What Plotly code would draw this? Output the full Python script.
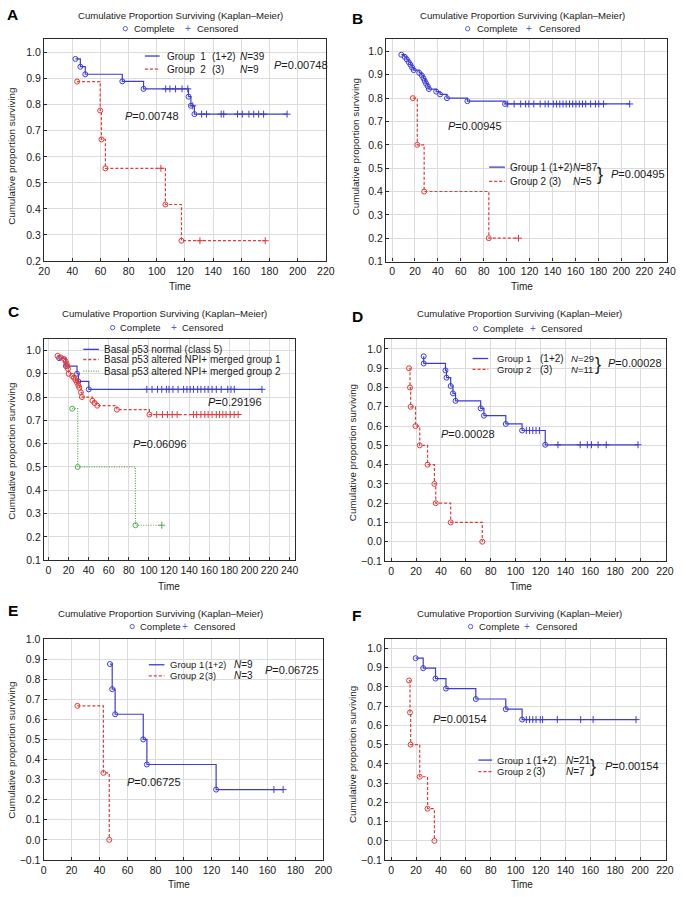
import plotly.graph_objects as go

W, H = 685, 897

# ---------------- data ----------------
# Panel A
A_g1_t = [42.2, 45.7, 49.2, 75.5, 90.6, 122.5, 124.2, 126.7]
A_g1_s = [0.976, 0.946, 0.917, 0.890, 0.861, 0.831, 0.796, 0.764]
A_g1_c = [106.3, 109.3, 113.3, 117.9, 122.0, 125.5, 131.8, 135.3, 145.7, 147.5,
          157.3, 160.7, 165.4, 168.8, 172.3, 175.8, 192.5]
A_g2_t = [43.4, 59.8, 60.7, 63.5, 106.1, 117.5]
A_g2_s = [0.889, 0.778, 0.667, 0.556, 0.417, 0.278]
A_g2_c = [102.9, 130.6, 177.0]

# Panel B
B_g1_t = [8.1, 11.0, 12.9, 14.6, 16.1, 17.5, 18.9, 23.7, 26.0, 27.4, 28.5, 29.7,
          31.1, 32.2, 38.5, 41.9, 47.9, 65.7, 98.6]
B_g1_s = [0.986, 0.977, 0.966, 0.954, 0.943, 0.931, 0.920, 0.908, 0.897, 0.885,
          0.874, 0.862, 0.851, 0.839, 0.828, 0.816, 0.800, 0.787, 0.775]
B_g1_c = [100.9, 106.5, 112.2, 116.5, 119.3, 123.6, 129.2, 133.5, 136.3, 140.6,
          143.4, 146.3, 149.1, 151.9, 154.8, 157.6, 160.4, 163.3, 166.1, 168.9,
          173.2, 177.4, 180.3, 184.5, 207.3]
B_g2_t = [18.1, 22.0, 28.0, 84.4]
B_g2_s = [0.8, 0.6, 0.4, 0.2]
B_g2_c = [110.3]

# Panel C
C_g1_t = [10.7, 17.5, 28.5, 29.8, 40.2]
C_g1_s = [0.967, 0.933, 0.900, 0.867, 0.833]
C_g1_c = [97.9, 103.1, 108.6, 112.8, 117.4, 120.0, 123.9, 129.0, 134.5, 137.8,
          141.0, 144.3, 148.5, 151.7, 155.6, 158.9, 162.8, 167.0, 171.9, 178.4,
          181.6, 184.9, 212.4]
C_g2_t = [9.1, 12.3, 15.6, 17.2, 18.2, 18.8, 19.5, 20.1, 23.7, 25.3, 26.9, 28.5,
          29.8, 30.8, 32.4, 33.4, 43.8, 46.0, 48.6, 68.1, 100.5]
C_g2_s = [0.977, 0.970, 0.963, 0.953, 0.942, 0.932, 0.921, 0.900, 0.890, 0.883,
          0.873, 0.862, 0.850, 0.840, 0.820, 0.800, 0.784, 0.774, 0.763, 0.746, 0.725]
C_g2_c = [107.7, 113.5, 118.4, 123.2, 128.1, 144.3, 147.5, 151.7, 155.6, 158.9,
          162.8, 167.0, 170.2, 173.5, 176.7, 180.9, 184.8, 188.7]
C_g3_t = [23.7, 29.2, 86.6]
C_g3_s = [0.75, 0.5, 0.25]
C_g3_c = [112.8]

# Panel D
D_g1_t = [26.1, 26.1, 43.6, 44.4, 47.8, 49.6, 51.7, 71.9, 74.5, 92.1, 105.2, 123.8]
D_g1_s = [0.962, 0.925, 0.889, 0.851, 0.808, 0.770, 0.731, 0.692, 0.654, 0.611, 0.577, 0.503]
D_g1_c = [108.6, 111.2, 113.8, 116.4, 119.1, 134.0, 151.9, 157.6, 161.0, 166.3, 172.8, 198.4]
D_g2_t = [14.3, 15.1, 15.6, 19.5, 22.9, 29.2, 34.7, 35.8, 47.8, 73.2]
D_g2_s = [0.9, 0.8, 0.7, 0.6, 0.5, 0.4, 0.3, 0.2, 0.1, 0.0]
D_g2_c = []

# Panel E
E_g1_t = [47.4, 49.0, 51.1, 71.2, 73.8, 123.3]
E_g1_s = [0.875, 0.75, 0.625, 0.5, 0.375, 0.25]
E_g1_c = [164.6, 171.2]
E_g2_t = [24.1, 42.7, 46.9]
E_g2_s = [0.667, 0.333, 0.0]
E_g2_c = []

# Panel F
F_g1_t = [19.6, 25.7, 35.6, 44.0, 68.0, 92.1, 105.2]
F_g1_s = [0.949, 0.897, 0.843, 0.791, 0.737, 0.684, 0.630]
F_g1_c = [108.6, 111.2, 113.8, 116.4, 119.8, 121.7, 133.5, 152.3, 162.3, 196.8]
F_g2_t = [14.3, 15.1, 15.6, 22.9, 29.2, 34.7]
F_g2_s = [0.833, 0.667, 0.5, 0.333, 0.167, 0.0]
F_g2_c = []

# ---------------- style ----------------
BLUE = "rgb(60,60,215)"
RED = "rgb(228,58,58)"
GREEN = "rgb(80,170,80)"
MARK_BLUE = "rgb(90,90,220)"
TXT = "#1a1a1a"
FONT = "Liberation Sans, Arial, sans-serif"
DASH = "3px,2px"
DOT = "1px,1.5px"
NB = "\u00a0"


def px(x):
    return x / W


def py(y):
    return 1 - y / H


panels = {
    "A": dict(box=(39, 327, 33.3, 258.5), xr=[20, 220], yr=[0.2, 1.053]),
    "B": dict(box=(388.5, 676, 33.3, 259), xr=[-5.3, 240], yr=[0.1, 1.054]),
    "C": dict(box=(39, 295.7, 337.3, 561.7), xr=[-4.2, 245.5], yr=[0.1, 1.05]),
    "D": dict(box=(387.5, 674.3, 337.3, 562.5), xr=[-5, 220.5], yr=[-0.1, 1.053]),
    "E": dict(box=(38.5, 324.5, 641.5, 865.5), xr=[0, 200], yr=[-0.1, 1.0]),
    "F": dict(box=(387.5, 674.3, 641.7, 865.7), xr=[-5, 220.5], yr=[-0.1, 1.048]),
}

series = {
    "A": [(A_g1_t, A_g1_s, A_g1_c, BLUE, "solid"), (A_g2_t, A_g2_s, A_g2_c, RED, DASH)],
    "B": [(B_g1_t, B_g1_s, B_g1_c, BLUE, "solid"), (B_g2_t, B_g2_s, B_g2_c, RED, DASH)],
    "C": [(C_g1_t, C_g1_s, C_g1_c, BLUE, "solid"), (C_g2_t, C_g2_s, C_g2_c, RED, DASH),
          (C_g3_t, C_g3_s, C_g3_c, GREEN, DOT)],
    "D": [(D_g1_t, D_g1_s, D_g1_c, BLUE, "solid"), (D_g2_t, D_g2_s, D_g2_c, RED, DASH)],
    "E": [(E_g1_t, E_g1_s, E_g1_c, BLUE, "solid"), (E_g2_t, E_g2_s, E_g2_c, RED, DASH)],
    "F": [(F_g1_t, F_g1_s, F_g1_c, BLUE, "solid"), (F_g2_t, F_g2_s, F_g2_c, RED, DASH)],
}


def s_at(t, s, ci):
    val = 1.0
    for ti, si in zip(t, s):
        if ti <= ci:
            val = si
    return val


fig = go.Figure()
layout = dict(width=W, height=H, autosize=False, margin=dict(l=0, r=0, t=0, b=0),
              paper_bgcolor="white", plot_bgcolor="white", showlegend=False,
              font=dict(family=FONT, color=TXT))

for i, key in enumerate(["A", "B", "C", "D", "E", "F"]):
    n = i + 1
    sfx = "" if n == 1 else str(n)
    p = panels[key]
    x0, x1, y0, y1 = p["box"]
    common = dict(showgrid=True, gridcolor="#dcdcdc", gridwidth=1, zeroline=False,
                  showline=True, linecolor="#2a2a2a", linewidth=1.3, mirror=True,
                  ticks="inside", ticklen=3, tickcolor="#2a2a2a",
                  tickfont=dict(size=10.5, family=FONT, color=TXT), fixedrange=True)
    layout["xaxis" + sfx] = dict(common, domain=[px(x0), px(x1)], range=p["xr"],
                                 tick0=0, dtick=20, anchor="y" + sfx)
    layout["yaxis" + sfx] = dict(common, domain=[py(y1), py(y0)], range=p["yr"],
                                 tick0=0, dtick=0.1, tickformat=".1f", anchor="x" + sfx)
    for (t, s, c, col, dash) in series[key]:
        end = max([t[-1]] + list(c))
        fig.add_trace(go.Scatter(x=list(t) + [end], y=list(s) + [s[-1]], mode="lines",
                                 line=dict(shape="hv", color=col, width=1.2, dash=dash),
                                 xaxis="x" + sfx, yaxis="y" + sfx, hoverinfo="skip"))
        fig.add_trace(go.Scatter(x=t, y=s, mode="markers",
                                 marker=dict(symbol="circle-open", size=5, color=col,
                                             line=dict(width=1, color=col)),
                                 xaxis="x" + sfx, yaxis="y" + sfx, hoverinfo="skip"))
        if c:
            fig.add_trace(go.Scatter(x=c, y=[s_at(t, s, ci) for ci in c], mode="markers",
                                     marker=dict(symbol="cross-thin-open", size=5, color=col,
                                                 line=dict(width=1, color=col)),
                                     xaxis="x" + sfx, yaxis="y" + sfx, hoverinfo="skip"))

annotations = []
shapes = []


def txt(x, y, s, size=10.5, anchor="left", angle=0, color=TXT, bold=False):
    if bold:
        s = "<b>" + s + "</b>"
    annotations.append(dict(x=px(x), y=py(y), xref="paper", yref="paper", text=s,
                            showarrow=False, xanchor=anchor, yanchor="middle",
                            textangle=angle, font=dict(size=size, color=color, family=FONT)))


def seg(xa, xb, y, color, dash):
    shapes.append(dict(type="line", xref="paper", yref="paper", x0=px(xa), x1=px(xb),
                       y0=py(y), y1=py(y), line=dict(color=color, width=1.3, dash=dash)))


def circ(x, y, r=2.2):
    shapes.append(dict(type="circle", xref="paper", yref="paper", x0=px(x - r), x1=px(x + r),
                       y0=py(y + r), y1=py(y - r), line=dict(color=MARK_BLUE, width=1)))


TITLE = "Cumulative Proportion Surviving (Kaplan\u2013Meier)"
YT = "Cumulative proportion surviving"

headers = [
    ("A", (7, 9), (178, 10), 23, 122, 129, 186, 193),
    ("B", (359, 13), (528, 10), 23, 472, 479, 535, 543),
    ("C", (8, 310), (162, 312), 326, 109, 115, 172, 178),
    ("D", (359, 315), (525, 312), 327, 480, 486, 539, 545),
    ("E", (7, 613), (158, 616), 629, 129, 135, 183, 190),
    ("F", (358, 618), (525, 616), 629, 475, 482, 533, 540),
]
for (L, lp, tp, hy, cx, comx, plx, cenx) in headers:
    txt(lp[0], lp[1], L, size=15.5, anchor="center", bold=True, color="#000")
    txt(tp[0], tp[1], TITLE, size=9.6, anchor="center")
    circ(cx, hy)
    txt(comx, hy, "Complete", size=9.5)
    txt(plx, hy, "+", size=10, anchor="center", color=MARK_BLUE)
    txt(cenx, hy, "Censored", size=9.5)

for (x, y) in [(6, 152), (357, 143), (6, 451), (355, 453), (6, 754), (355, 759)]:
    txt(x, y, YT, size=9.8, anchor="center", angle=-90)
for (x, y) in [(178, 284), (528, 284), (167, 588), (527, 588), (177, 890), (528, 890)]:
    txt(x, y, "Time", size=10, anchor="center")

PS = 11   # P-value text size
LS = 10   # in-plot legend text size

# ---- Panel A ----
seg(142, 157, 50.7, BLUE, "solid")
seg(142, 157, 64, RED, DASH)
txt(163, 50.7, "Group" + NB + NB + "1", size=LS)
txt(209, 50.7, "(1+2)", size=LS)
txt(237, 50.7, "<i>N</i>=39", size=LS)
txt(163, 64, "Group" + NB + NB + "2", size=LS)
txt(209, 64, "(3)", size=LS)
txt(237, 64, "<i>N</i>=9", size=LS)
txt(272, 59.3, "<i>P</i>=0.00748", size=PS)
txt(120, 111, "<i>P</i>=0.00748", size=PS)

# ---- Panel B ----
seg(494, 510, 163.3, BLUE, "solid")
seg(494, 510, 177.7, RED, DASH)
txt(513, 163.3, "Group 1 (1+2)", size=LS)
txt(578, 163.3, "<i>N</i>=87", size=LS)
txt(513, 177.7, "Group 2 (3)", size=LS)
txt(578, 177.7, "<i>N</i>=5", size=LS)
txt(607, 170.5, "}", size=18, anchor="center")
txt(616, 170.5, "<i>P</i>=0.00495", size=PS)
txt(450, 121.7, "<i>P</i>=0.00945", size=PS)

# ---- Panel C ----
seg(79, 95, 348, BLUE, "solid")
seg(79, 95, 358.3, RED, DASH)
seg(79, 95, 370, GREEN, DOT)
txt(98, 348, "Basal p53 normal (class 5)", size=10)
txt(98, 358.3, "Basal p53 altered NPI+ merged group 1", size=10)
txt(98, 370, "Basal p53 altered NPI+ merged group 2", size=10)
txt(204, 401, "<i>P</i>=0.29196", size=PS)
txt(128, 444, "<i>P</i>=0.06096", size=PS)

# ---- Panel D ----
seg(477, 493, 357.3, BLUE, "solid")
seg(477, 493, 368.3, RED, DASH)
txt(500, 357.3, "Group 1", size=9.5)
txt(544, 357.3, "(1+2)", size=LS)
txt(576, 357.3, "<i>N</i>=29", size=9.5)
txt(500, 368.3, "Group 2", size=9.5)
txt(544, 368.3, "(3)", size=LS)
txt(576, 368.3, "<i>N</i>=11", size=9.5)
txt(605.5, 363, "}", size=18, anchor="center")
txt(613, 362.3, "<i>P</i>=0.00028", size=PS)
txt(443, 434.3, "<i>P</i>=0.00028", size=PS)

# ---- Panel E ----
seg(146, 162, 667.7, BLUE, "solid")
seg(146, 162, 679, RED, DASH)
txt(166, 667.7, "Group 1", size=9.5)
txt(201, 667.7, "(1+2)", size=9)
txt(231, 667.7, "<i>N</i>=9", size=LS)
txt(166, 679, "Group 2", size=9.5)
txt(201, 679, "(3)", size=9)
txt(231, 679, "<i>N</i>=3", size=LS)
txt(263, 672.7, "<i>P</i>=0.06725", size=PS)
txt(122, 786.7, "<i>P</i>=0.06725", size=PS)

# ---- Panel F ----
seg(483, 497, 764.3, BLUE, "solid")
seg(483, 497, 776, RED, DASH)
txt(500, 764.3, "Group 1", size=9.5)
txt(537, 764.3, "(1+2)", size=LS)
txt(570, 764.3, "<i>N</i>=21", size=LS)
txt(500, 776, "Group 2", size=9.5)
txt(537, 776, "(3)", size=LS)
txt(570, 776, "<i>N</i>=7", size=LS)
txt(600, 770, "}", size=18, anchor="center")
txt(610, 770, "<i>P</i>=0.00154", size=PS)
txt(435, 722.7, "<i>P</i>=0.00154", size=PS)

layout["annotations"] = annotations
layout["shapes"] = shapes
fig.update_layout(**layout)
fig.write_html(
    "out.html",
    config={"displayModeBar": False},
    post_script="document.body.style.margin='0px';document.body.style.padding='0px';"
                "document.body.style.overflow='hidden';",
)
